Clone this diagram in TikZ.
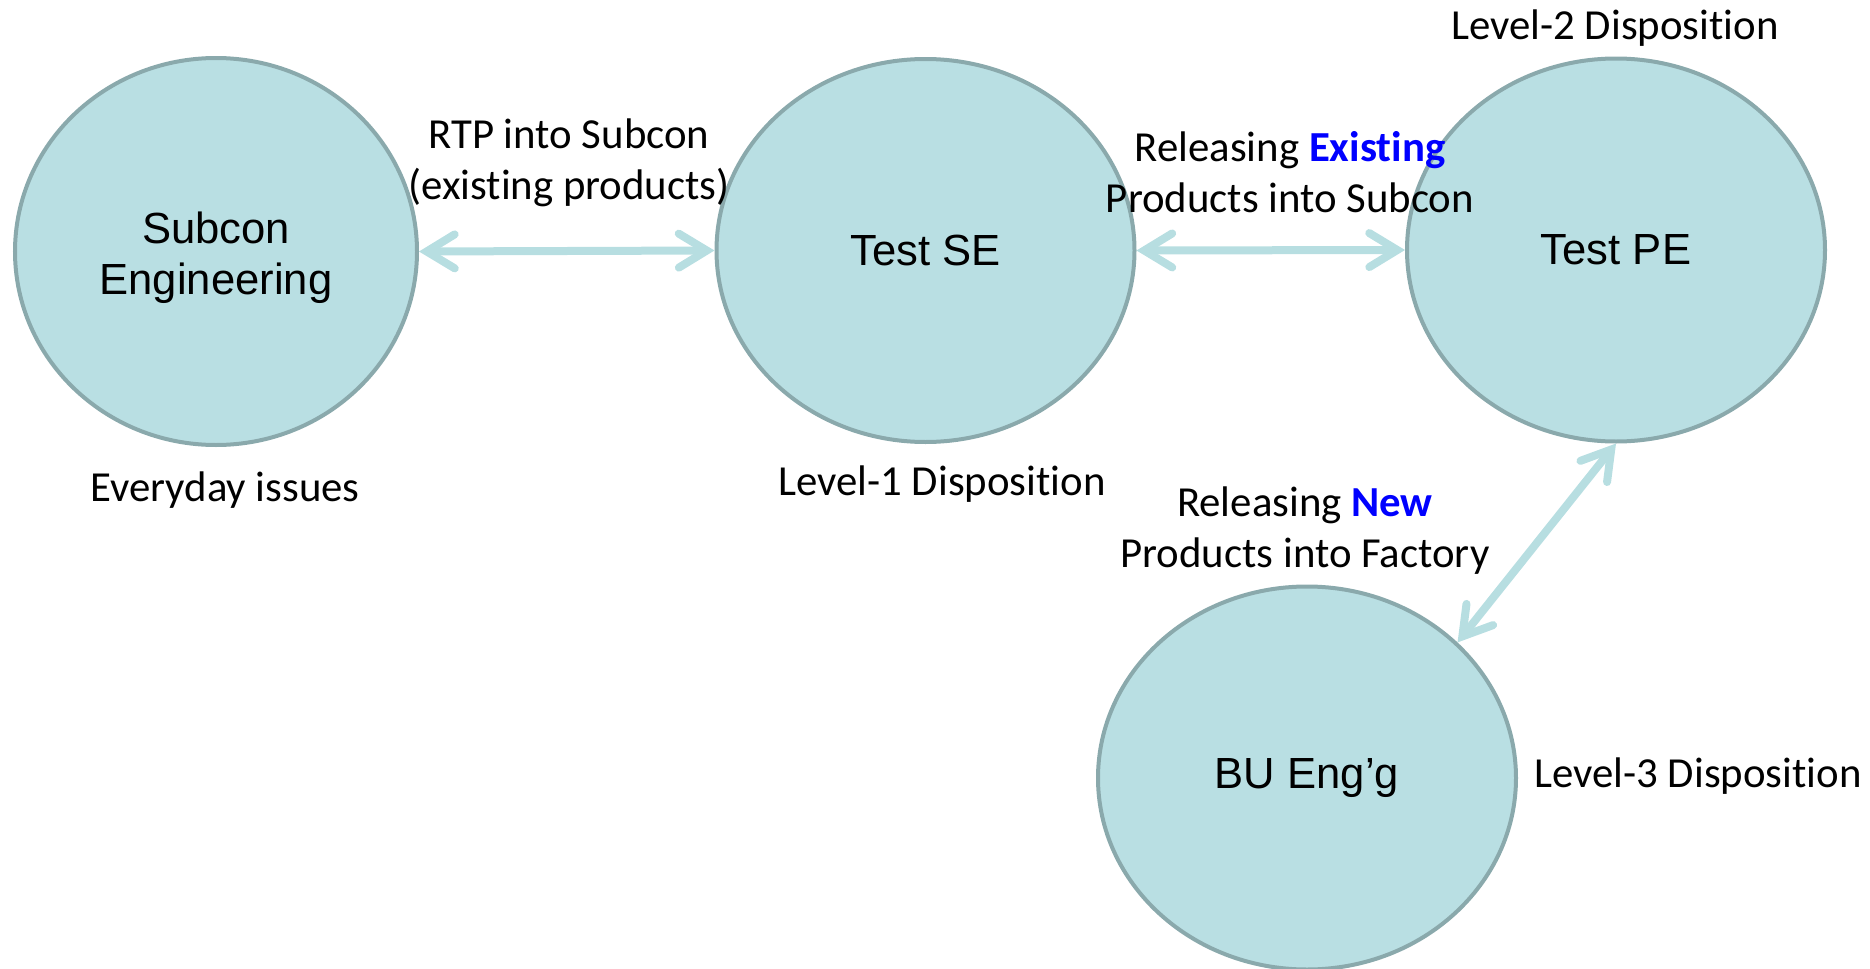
\documentclass[tikz,border=0pt]{standalone}
\usepackage{fontspec}
\setmainfont{Carlito}[Ligatures=NoCommon]
\newfontfamily\arialf{Liberation Sans}
\usetikzlibrary{shapes.geometric,arrows.meta}
\definecolor{cfill}{HTML}{B9DFE3}
\definecolor{cline}{HTML}{8AA9AC}
\definecolor{carrow}{HTML}{B7DEE1}
\definecolor{cblue}{HTML}{0000FF}
\tikzset{
  bubble/.style={ellipse, draw=cline, fill=cfill, line width=2pt, inner sep=0pt,
    font=\arialf\fontsize{21.8}{25.6}\selectfont, align=center,
    minimum width=209pt, minimum height=191.5pt},
  lbl/.style={font=\fontsize{21.4}{25.5}\selectfont, align=center, inner sep=0pt},
  link/.style={draw=carrow, line width=4pt,
    {Straight Barb[length=14pt,width=17pt,line cap=round]}-{Straight Barb[length=14pt,width=17pt,line cap=round]}}
}
\newcommand{\hi}[1]{\textbf{\color{cblue}#1}}
\begin{document}
\begin{tikzpicture}[x=0.5pt,y=-0.5pt]
\useasboundingbox (0,0) rectangle (1870,969);
\node[bubble, minimum width=201pt, minimum height=193.5pt] (sub) at (216,251.5) {};
\node[font=\arialf\fontsize{21.8}{25.6}\selectfont, align=center] (subt) at (216,258) {Subcon\\Engineering};
\node[bubble] (se) at (925.5,250.5) {Test SE};
\node[bubble] (pe) at (1616,250) {Test PE};
\node[bubble] (bu) at (1307,778) {BU Eng’g};
\draw[link] (sub.east) -- (se.west);
\draw[link] (se.east) -- (pe.west);
\draw[link] (pe.south) -- (bu.42);
\node[lbl] (l1) at (569,163) {RTP into Subcon\\(existing products)};
\node[lbl] (l2) at (1290,172) {Releasing \hi{Existing}\\Products into Subcon};
\node[lbl] (l3) at (1305,531) {Releasing \hi{New}\\Products into Factory};
\node[lbl] (d2) at (1615,28) {Level-2 Disposition};
\node[lbl] (ev) at (225,490) {Everyday issues};
\node[lbl] (d1) at (942,484) {Level-1 Disposition};
\node[lbl] (d3) at (1698,776) {Level-3 Disposition};
\end{tikzpicture}
\end{document}
